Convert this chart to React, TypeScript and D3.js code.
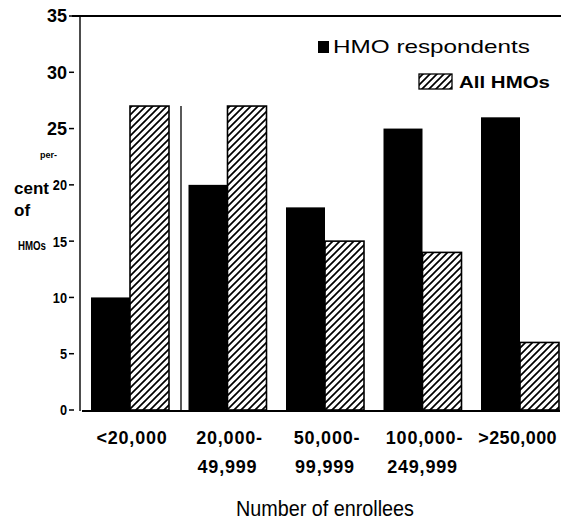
import React from "react";
import * as d3 from "d3";

const categories = ["<20,000", "20,000-49,999", "50,000-99,999", "100,000-249,999", ">250,000"];
const labelLine1 = ["<20,000", "20,000-", "50,000-", "100,000-", ">250,000"];
const labelLine2 = ["", "49,999", "99,999", "249,999", ""];
const hmoRespondents = [10, 20, 18, 25, 26];
const allHmos = [27, 27, 15, 14, 6];
const yTicks = [0, 5, 10, 15, 20, 25, 30, 35];

const W = 561;
const H = 527;
const FONT = "'Liberation Sans', Arial, Helvetica, sans-serif";

export default function App() {
  const y = d3.scaleLinear().domain([0, 35]).range([410, 16]);
  const x0 = d3.scaleBand<string>().domain(categories).range([91, 559]).paddingInner(0.2).paddingOuter(0);
  const x1 = d3.scaleBand<string>().domain(["resp", "all"]).range([0, x0.bandwidth()]).padding(0);

  return (
    <svg width={W} height={H} style={{ position: "absolute", left: 0, top: 0, background: "#fff" }}>
      <defs>
        <pattern id="hatch" patternUnits="userSpaceOnUse" width={7} height={7}>
          <rect width={7} height={7} fill="#fff" />
          <path d="M0,7 L7,0 M-1,1 L1,-1 M6,8 L8,6" stroke="#000" strokeWidth={1.7} />
        </pattern>
      </defs>

      {/* frame lines */}
      <line x1={72} x2={561} y1={16} y2={16} stroke="#000" strokeWidth={2} />
      <line x1={80} x2={80} y1={16} y2={411} stroke="#000" strokeWidth={1.4} />
      <line x1={181} x2={181} y1={y(27)} y2={411} stroke="#000" strokeWidth={1.3} />

      {/* y ticks */}
      {yTicks.map((v) => {
        const big = v >= 25;
        return (
          <g key={v}>
            <text
              x={67}
              y={y(v)}
              dy="0.36em"
              textAnchor="end"
              fontFamily={FONT}
              fontWeight="bold"
              fontSize={big ? 18 : 15}
              transform={big ? undefined : `translate(67,0) scale(0.85,1) translate(-67,0)`}
            >
              {v}
            </text>
            <line x1={69} x2={74} y1={y(v)} y2={y(v)} stroke="#000" strokeWidth={1.5} />
          </g>
        );
      })}

      {/* y title */}
      <text x={40} y={158} fontFamily={FONT} fontSize={9} fontWeight="bold">per-</text>
      <text x={14} y={194} fontFamily={FONT} fontSize={17} fontWeight="bold">cent</text>
      <text x={14} y={216} fontFamily={FONT} fontSize={17} fontWeight="bold">of</text>
      <text x={18} y={250} fontFamily={FONT} fontSize={12} fontWeight="bold" textLength={28} lengthAdjust="spacingAndGlyphs">HMOs</text>

      {/* bars */}
      {categories.map((c, i) => {
        const gx = x0(c)!;
        return (
          <g key={c}>
            <rect
              x={gx + x1("resp")!}
              y={y(hmoRespondents[i])}
              width={x1.bandwidth()}
              height={y(0) - y(hmoRespondents[i])}
              fill="#000"
            />
            <rect
              x={gx + x1("all")!}
              y={y(allHmos[i])}
              width={x1.bandwidth()}
              height={y(0) - y(allHmos[i])}
              fill="url(#hatch)"
              stroke="#000"
              strokeWidth={1.6}
            />
          </g>
        );
      })}

      {/* baseline */}
      <line x1={82} x2={560} y1={411} y2={411} stroke="#000" strokeWidth={2} />

      {/* x labels */}
      {categories.map((c, i) => {
        const cx = x0(c)! + x0.bandwidth() / 2;
        const last = i === categories.length - 1;
        return (
          <g key={c}>
            <text
              x={last ? 557 : cx + 2}
              y={444}
              textAnchor={last ? "end" : "middle"}
              fontFamily={FONT}
              fontWeight="bold"
              fontSize={18}
              letterSpacing={last ? 0.4 : 0.8}
            >
              {labelLine1[i]}
            </text>
            {labelLine2[i] && (
              <text x={cx} y={473} textAnchor="middle" fontFamily={FONT} fontWeight="bold" fontSize={18} letterSpacing={0.8}>
                {labelLine2[i]}
              </text>
            )}
          </g>
        );
      })}
      <text x={325} y={516} textAnchor="middle" fontFamily={FONT} fontSize={22} textLength={178} lengthAdjust="spacingAndGlyphs">
        Number of enrollees
      </text>

      {/* legend */}
      <rect x={318} y={41} width={11} height={12} fill="#000" />
      <text x={333} y={53} fontFamily={FONT} fontSize={19} textLength={197} lengthAdjust="spacingAndGlyphs">
        HMO respondents
      </text>
      <rect x={419} y={74} width={33} height={15} fill="url(#hatch)" stroke="#000" strokeWidth={1.3} />
      <text x={459} y={88} fontFamily={FONT} fontSize={17} fontWeight="bold" textLength={91} lengthAdjust="spacingAndGlyphs">
        All HMOs
      </text>
    </svg>
  );
}
